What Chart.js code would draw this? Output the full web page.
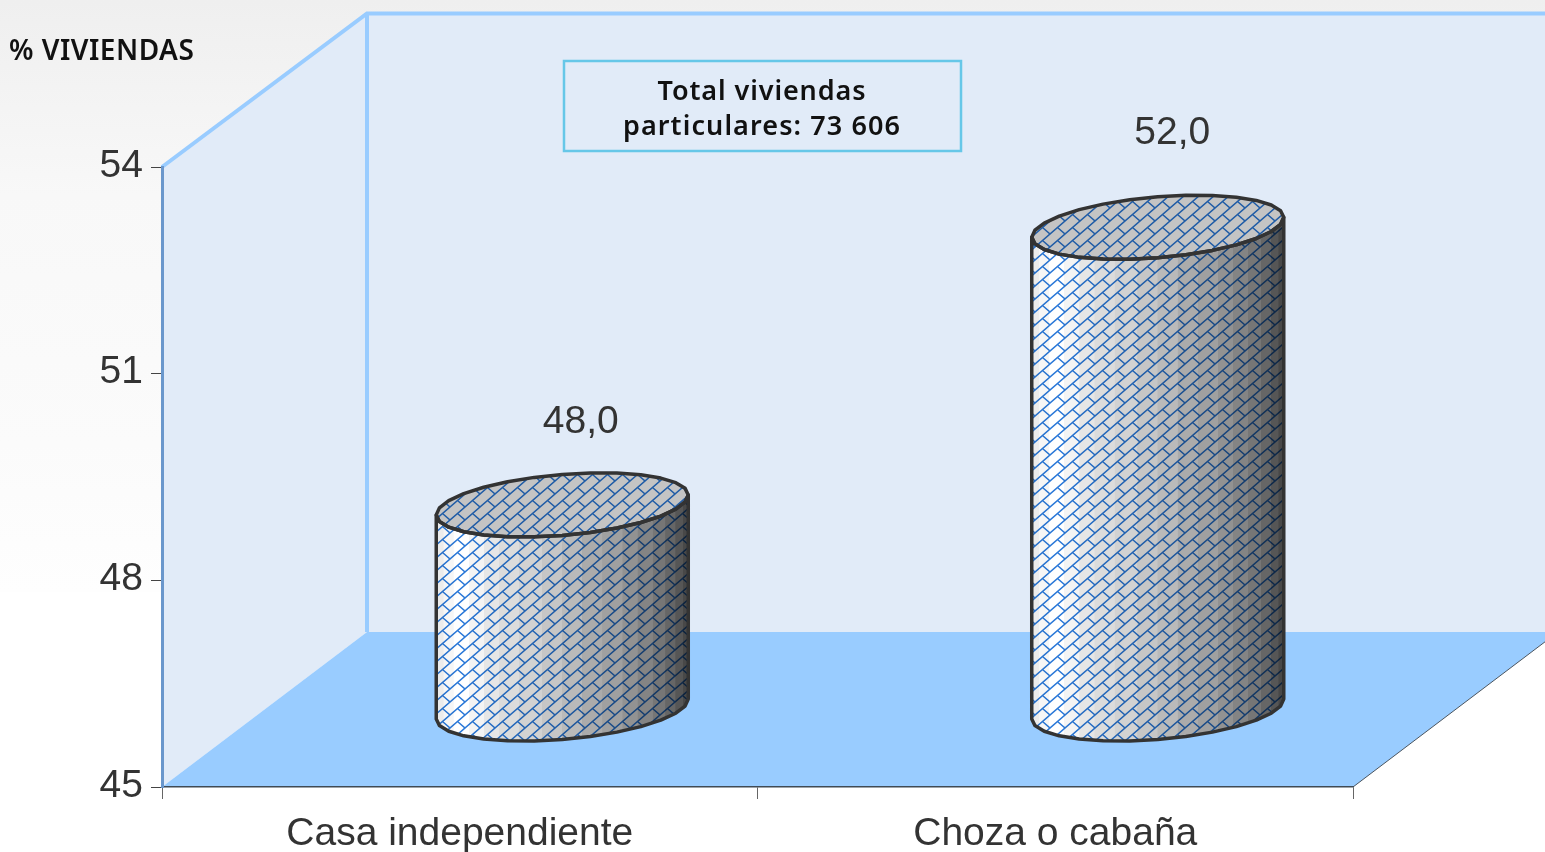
<!DOCTYPE html>
<html><head><meta charset="utf-8">
<style>html,body{margin:0;padding:0;background:#fff;overflow:hidden}canvas{display:block}</style>
<script src="https://cdn.jsdelivr.net/npm/chart.js@4"></script>
</head><body>
<canvas id="c" width="1545" height="852"></canvas>
<script>
const categories = ['Casa independiente', 'Choza o cabaña'];
const values = [47.97, 52];
const valueLabels = ['48,0', '52,0'];
const yTicks = [45, 48, 51, 54];
const yMin = 45;
const yMax = 54;
const yAxisTitle = '% VIVIENDAS';
const noteLines = ['Total viviendas', 'particulares: 73 606'];

const DEPTH = {x: 205, y: -155};
const SANS = '"Liberation Sans", Arial, sans-serif';
const HUMAN = '"Noto Sans", sans-serif';
const TEXT = '#333333';
const LABEL_SHIFT = [[121, -160], [117, -172]];
const FACETS = [[0,'#ececec'],[.03,'#f6f6f6'],[.07,'#ffffff'],[.13,'#f4f4f4'],[.19,'#e6e6e6'],[.25,'#dcdcdc'],[.33,'#d2d2d2'],[.42,'#c6c6c6'],[.5,'#bababa'],[.58,'#ababab'],[.66,'#a0a0a0'],[.74,'#929292'],[.8,'#848484'],[.86,'#767676'],[.91,'#666666'],[.95,'#565656'],[.98,'#484848']];

function brickPattern(ctx) {
  const W = 15, H = 13, t = document.createElement('canvas');
  t.width = W; t.height = H;
  const g = t.getContext('2d');
  g.fillStyle = '#fff'; g.fillRect(0, 0, W, H);
  g.strokeStyle = '#2a78d8'; g.lineWidth = 1.5; g.lineCap = 'butt';
  g.beginPath();
  g.moveTo(-W, 2 * H); g.lineTo(2 * W, -H);
  g.moveTo(-W, H); g.lineTo(W, -H);
  g.moveTo(0, 2 * H); g.lineTo(2 * W, 0);
  g.moveTo(W / 2, H / 2); g.lineTo(W, H);
  g.stroke();
  return ctx.createPattern(t, 'repeat');
}

function ellipsePath(ctx, cx, cy, a, b, k, from, to, n) {
  for (let i = 0; i <= n; i++) {
    const t = from + (to - from) * i / n;
    const x = cx + a * Math.cos(t), y = cy + b * Math.sin(t) - k * Math.cos(t);
    if (i === 0 && from === 0 && to === Math.PI * 2) ctx.moveTo(x, y); else ctx.lineTo(x, y);
  }
}

const scene = {
  id: 'scene',
  beforeDraw(chart) {
    const {ctx, chartArea: a, width, height} = chart;
    ctx.save();
    const bg = ctx.createLinearGradient(0, 0, 0, 592);
    bg.addColorStop(0, '#efefef'); bg.addColorStop(.33, '#f8f8f8'); bg.addColorStop(.75, '#fbfbfb'); bg.addColorStop(1, '#fefefe');
    ctx.fillStyle = '#fff'; ctx.fillRect(0, 0, width, height);
    ctx.fillStyle = bg; ctx.fillRect(0, 0, width, 592);
    const L = a.left, R = a.right, T = a.top, B = a.bottom, dx = DEPTH.x, dy = DEPTH.y;
    const top = T + dy + 1.5;
    ctx.fillStyle = '#e1ebf8';
    ctx.beginPath(); ctx.moveTo(L, T); ctx.lineTo(L + dx, top); ctx.lineTo(R + dx, top);
    ctx.lineTo(R + dx, B + dy); ctx.lineTo(L + dx, B + dy); ctx.lineTo(L, B); ctx.closePath(); ctx.fill();
    ctx.strokeStyle = '#99ccff'; ctx.lineWidth = 4; ctx.lineJoin = 'miter';
    ctx.beginPath(); ctx.moveTo(L, T); ctx.lineTo(L + dx, top); ctx.lineTo(R + dx, top);
    ctx.moveTo(L + dx, top); ctx.lineTo(L + dx, B + dy); ctx.stroke();
    ctx.fillStyle = '#99ccff';
    ctx.beginPath(); ctx.moveTo(L, B); ctx.lineTo(L + dx, B + dy); ctx.lineTo(R + dx, B + dy); ctx.lineTo(R, B); ctx.closePath(); ctx.fill();
    ctx.strokeStyle = '#4a5560'; ctx.lineWidth = 1;
    ctx.beginPath(); ctx.moveTo(R, B); ctx.lineTo(R + dx, B + dy); ctx.stroke();
    ctx.restore();
  },
  afterDatasetsDraw(chart) {
    const ctx = chart.ctx, meta = chart.getDatasetMeta(0);
    const pat = brickPattern(ctx);
    meta.data.forEach((bar, i) => {
      const cx = bar.x + DEPTH.x / 2, top = bar.y + DEPTH.y / 2, base = bar.base + DEPTH.y / 2;
      const a = bar.width / 2, b = 30.5, k = 10;
      const grad = ctx.createLinearGradient(cx - a, 0, cx + a, 0);
      FACETS.forEach(([p, c], j) => {
        const next = j + 1 < FACETS.length ? FACETS[j + 1][0] : 1;
        grad.addColorStop(p, c); grad.addColorStop(next - 0.002, c);
      });
      const body = () => {
        ctx.beginPath();
        ctx.moveTo(cx - a, top + k);
        ellipsePath(ctx, cx, top, a, b, k, Math.PI, 0, 14);
        ctx.lineTo(cx + a, base - k);
        ellipsePath(ctx, cx, base, a, b, k, 0, Math.PI, 14);
        ctx.closePath();
      };
      const cap = () => { ctx.beginPath(); ellipsePath(ctx, cx, top, a, b, k, 0, Math.PI * 2, 28); ctx.closePath(); };
      ctx.save();
      body(); ctx.fillStyle = grad; ctx.fill();
      ctx.globalCompositeOperation = 'multiply'; ctx.fillStyle = pat; ctx.fill();
      ctx.globalCompositeOperation = 'source-over';
      cap(); ctx.fillStyle = '#c4c4c4'; ctx.fill();
      ctx.globalCompositeOperation = 'multiply'; ctx.fillStyle = pat; ctx.fill();
      ctx.globalCompositeOperation = 'source-over';
      ctx.strokeStyle = '#333333'; ctx.lineWidth = 3.5; ctx.lineJoin = 'round';
      body(); ctx.stroke();
      cap(); ctx.stroke();
      ctx.fillStyle = TEXT; ctx.font = '39px ' + SANS; ctx.textAlign = 'center'; ctx.textBaseline = 'middle';
      ctx.fillText(valueLabels[i], bar.x + LABEL_SHIFT[i][0], bar.y + LABEL_SHIFT[i][1]);
      ctx.restore();
    });
    ctx.save();
    ctx.fillStyle = '#111'; ctx.textBaseline = 'alphabetic'; ctx.textAlign = 'left';
    ctx.font = '600 28px ' + HUMAN;
    ctx.letterSpacing = '0.5px';
    ctx.fillText(yAxisTitle, 9, 60);
    ctx.strokeStyle = '#66c7e8'; ctx.lineWidth = 2.5;
    ctx.letterSpacing = '0px';
    ctx.strokeRect(564, 61, 397, 90);
    ctx.textAlign = 'center'; ctx.font = '600 27px ' + HUMAN;
    ctx.letterSpacing = '0.9px';
    ctx.fillText(noteLines[0], 762, 100);
    ctx.letterSpacing = '1.1px';
    ctx.fillText(noteLines[1], 762, 135);
    ctx.restore();
  }
};

new Chart(document.getElementById('c'), {
  type: 'bar',
  data: {labels: categories, datasets: [{data: values, base: yMin, backgroundColor: 'rgba(0,0,0,0)', borderWidth: 0,
    categoryPercentage: 1, barPercentage: 0.4232}]},
  options: {
    responsive: false, animation: false, devicePixelRatio: 1,
    layout: {padding: {top: 167, right: 192, left: 0, bottom: 0}},
    plugins: {legend: {display: false}, tooltip: {enabled: false}, title: {display: false}},
    scales: {
      x: {
        grid: {display: true, drawOnChartArea: false, drawTicks: true, tickLength: 12, tickColor: '#666', offset: true},
        border: {display: true, color: '#3f4a55', width: 1.5},
        ticks: {font: {family: SANS, size: 39}, color: TEXT, padding: 12, maxRotation: 0, autoSkip: false},
        afterFit(s) { s.height = 65; }
      },
      y: {
        min: yMin, max: yMax,
        afterBuildTicks(s) { s.ticks = yTicks.map(v => ({value: v})); },
        grid: {display: true, drawOnChartArea: false, tickLength: 11, tickColor: '#444'},
        border: {display: true, color: '#6a97cc', width: 3},
        ticks: {font: {family: SANS, size: 39}, color: TEXT, padding: 8, labelOffset: -1},
        afterFit(s) { s.width = 162; }
      }
    }
  },
  plugins: [scene]
});
</script>
</body></html>
